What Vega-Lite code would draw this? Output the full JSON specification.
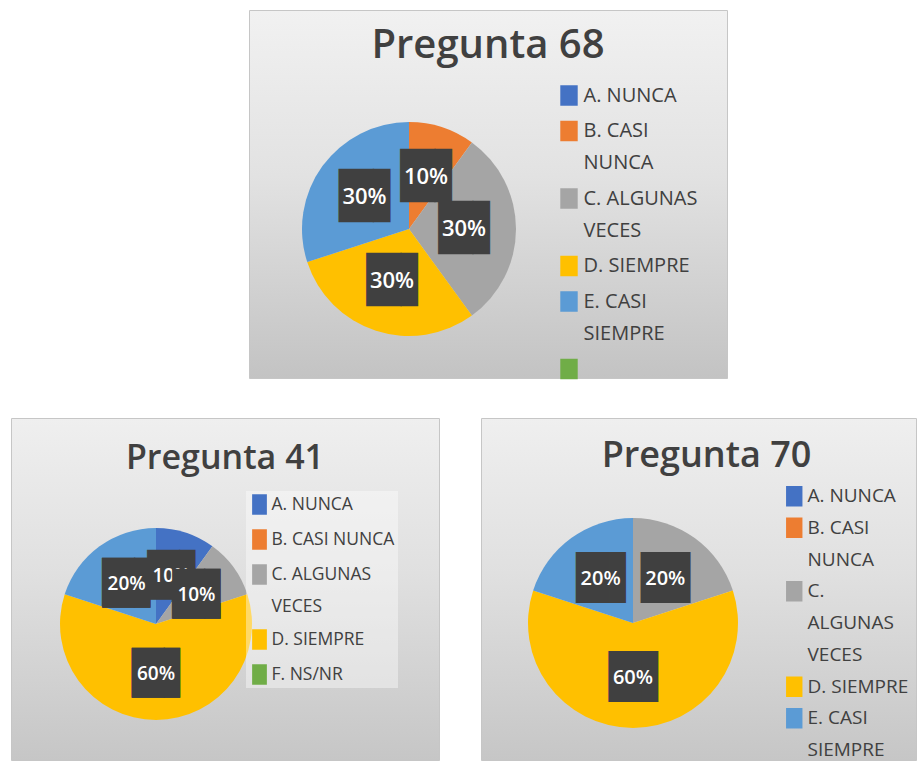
{
  "$schema": "https://vega.github.io/schema/vega-lite/v6.json",
  "padding": {"left": 10, "top": 9, "right": 0, "bottom": 0},
  "background": "white",
  "config": {
    "view": {"stroke": null},
    "font": "Open Sans",
    "style": {"guide-label": {"lineHeight": 32}}
  },
  "data": {
    "values": [
      {"pregunta": "Pregunta 68", "respuesta": "B. CASI NUNCA", "pct": 0.1},
      {"pregunta": "Pregunta 68", "respuesta": "C. ALGUNAS VECES", "pct": 0.3},
      {"pregunta": "Pregunta 68", "respuesta": "D. SIEMPRE", "pct": 0.3},
      {"pregunta": "Pregunta 68", "respuesta": "E. CASI SIEMPRE", "pct": 0.3},
      {"pregunta": "Pregunta 41", "respuesta": "A. NUNCA", "pct": 0.1},
      {"pregunta": "Pregunta 41", "respuesta": "C. ALGUNAS VECES", "pct": 0.1},
      {"pregunta": "Pregunta 41", "respuesta": "D. SIEMPRE", "pct": 0.6},
      {"pregunta": "Pregunta 41", "respuesta": "E. CASI SIEMPRE", "pct": 0.2},
      {"pregunta": "Pregunta 70", "respuesta": "C. ALGUNAS VECES", "pct": 0.2},
      {"pregunta": "Pregunta 70", "respuesta": "D. SIEMPRE", "pct": 0.6},
      {"pregunta": "Pregunta 70", "respuesta": "E. CASI SIEMPRE", "pct": 0.2}
    ]
  },
  "spacing": 36,
  "resolve": {"scale": {"color": "independent", "theta": "independent"}, "legend": {"color": "independent"}},
  "vconcat": [
    {
      "spacing": 0,
      "bounds": "flush",
      "resolve": {"scale": {"color": "independent", "theta": "independent"}, "legend": {"color": "independent"}},
      "hconcat": [
        {
          "width": 238,
          "height": 368,
          "mark": {"type": "point", "opacity": 0},
          "encoding": {}
        },
        {
          "width": 478,
          "height": 368,
          "view": {
            "fill": {"gradient": "linear", "x1": 0, "y1": 0, "x2": 0, "y2": 1,
              "stops": [{"offset": 0, "color": "#f1f1f1"}, {"offset": 0.45, "color": "#e2e2e2"}, {"offset": 1, "color": "#c3c3c3"}]},
            "stroke": "#c6c6c6",
            "strokeWidth": 1
          },
          "title": {"text": "Pregunta 68", "offset": -88, "baseline": "alphabetic", "anchor": "middle", "frame": "group",
            "font": "Open Sans", "fontSize": 40, "fontWeight": 600, "color": "#404040"},
          "transform": [{"filter": "datum.pregunta == 'Pregunta 68'"}],
          "encoding": {
            "theta": {"field": "pct", "type": "quantitative", "stack": true},
            "order": {"field": "respuesta", "type": "ordinal", "sort": "ascending"},
            "x": {"value": 160},
            "y": {"value": 219}
          },
          "layer": [
            {
              "mark": {"type": "arc", "radius": 107},
              "encoding": {
                "color": {
                  "field": "respuesta", "type": "nominal",
                  "scale": {
                    "domain": ["A. NUNCA", "B. CASI NUNCA", "C. ALGUNAS VECES", "D. SIEMPRE", "E. CASI SIEMPRE", "F. NS/NR"],
                    "range": ["#4472C4", "#ED7D31", "#A5A5A5", "#FFC000", "#5B9BD5", "#70AD47"]
                  },
                  "legend": {
                    "orient": "none", "legendX": 309.5, "legendY": 75, "title": null,
                    "values": ["A. NUNCA", "B. CASI NUNCA", "C. ALGUNAS VECES", "D. SIEMPRE", "E. CASI SIEMPRE", "F. NS/NR"],
                    "labelExpr": "datum.label == 'B. CASI NUNCA' ? ['B. CASI', 'NUNCA'] : datum.label == 'C. ALGUNAS VECES' ? ['C. ALGUNAS', 'VECES'] : datum.label == 'E. CASI SIEMPRE' ? ['E. CASI', 'SIEMPRE'] : datum.label == 'F. NS/NR' ? '' : datum.label",
                    "symbolType": "M-0.85,-1H0.85V1H-0.85Z", "symbolSize": 420, "symbolStrokeWidth": 0, "symbolOpacity": 1,
                    "labelFont": "Open Sans", "labelFontSize": 20, "labelColor": "#404040", "labelOffset": 4,
                    "rowPadding": 14.5, "labelLimit": 300
                  }
                }
              }
            },
            {
              "mark": {"type": "text", "radius": 55, "text": "█▌", "font": "DejaVu Sans", "fontSize": 45, "dx": 9, "color": "#404040"},
              "encoding": {"detail": {"field": "respuesta", "type": "nominal"}}
            },
            {
              "mark": {"type": "text", "radius": 55, "font": "Open Sans", "fontSize": 22, "fontWeight": 600, "color": "white"},
              "encoding": {
                "detail": {"field": "respuesta", "type": "nominal"},
                "text": {"field": "pct", "type": "quantitative", "format": ".0%"}
              }
            }
          ]
        }
      ]
    },
    {
      "spacing": 42,
      "bounds": "flush",
      "resolve": {"scale": {"color": "independent", "theta": "independent"}, "legend": {"color": "independent"}},
      "hconcat": [
        {
          "width": 428,
          "height": 342,
          "view": {
            "fill": {"gradient": "linear", "x1": 0, "y1": 0, "x2": 0, "y2": 1,
              "stops": [{"offset": 0, "color": "#efefef"}, {"offset": 0.45, "color": "#e0e0e0"}, {"offset": 1, "color": "#c6c6c6"}]},
            "stroke": "#c6c6c6",
            "strokeWidth": 1
          },
          "title": {"text": "Pregunta 41", "offset": -85, "baseline": "alphabetic", "anchor": "middle", "frame": "group",
            "font": "Open Sans", "fontSize": 34, "fontWeight": 600, "color": "#404040"},
          "transform": [{"filter": "datum.pregunta == 'Pregunta 41'"}],
          "encoding": {
            "theta": {"field": "pct", "type": "quantitative", "stack": true},
            "order": {"field": "respuesta", "type": "ordinal", "sort": "ascending"},
            "x": {"value": 145},
            "y": {"value": 206}
          },
          "layer": [
            {
              "mark": {"type": "arc", "radius": 96},
              "encoding": {
                "color": {
                  "field": "respuesta", "type": "nominal",
                  "scale": {
                    "domain": ["A. NUNCA", "B. CASI NUNCA", "C. ALGUNAS VECES", "D. SIEMPRE", "E. CASI SIEMPRE", "F. NS/NR"],
                    "range": ["#4472C4", "#ED7D31", "#A5A5A5", "#FFC000", "#5B9BD5", "#70AD47"]
                  },
                  "legend": {
                    "orient": "none", "legendX": 235, "legendY": 73, "title": null, "padding": 3,
                    "fillColor": "rgba(255,255,255,0.4)",
                    "values": ["A. NUNCA", "B. CASI NUNCA", "C. ALGUNAS VECES", "D. SIEMPRE", "F. NS/NR"],
                    "labelExpr": "datum.label == 'C. ALGUNAS VECES' ? ['C. ALGUNAS', 'VECES'] : datum.label",
                    "symbolType": "M-0.72,-1H0.72V1H-0.72Z", "symbolSize": 420, "symbolStrokeWidth": 0, "symbolOpacity": 1,
                    "labelFont": "Open Sans", "labelFontSize": 17.5, "labelColor": "#404040", "labelOffset": 1.5,
                    "rowPadding": 14, "labelLimit": 300
                  }
                }
              }
            },
            {
              "mark": {"type": "text", "radius": 50, "text": "█▌", "font": "DejaVu Sans", "fontSize": 42, "dx": 8, "color": "#404040"},
              "encoding": {"detail": {"field": "respuesta", "type": "nominal"}}
            },
            {
              "mark": {"type": "text", "radius": 50, "font": "Open Sans", "fontSize": 19, "fontWeight": 600, "color": "white"},
              "encoding": {
                "detail": {"field": "respuesta", "type": "nominal"},
                "text": {"field": "pct", "type": "quantitative", "format": ".0%"},
                "opacity": {"condition": {"test": "datum.respuesta == 'A. NUNCA'", "value": 1}, "value": 0}
              }
            },
            {
              "mark": {"type": "text", "radius": 50, "text": "█▌", "font": "DejaVu Sans", "fontSize": 42, "dx": 8, "color": "#404040"},
              "encoding": {
                "detail": {"field": "respuesta", "type": "nominal"},
                "opacity": {"condition": {"test": "datum.respuesta == 'A. NUNCA'", "value": 0}, "value": 1}
              }
            },
            {
              "mark": {"type": "text", "radius": 50, "font": "Open Sans", "fontSize": 19, "fontWeight": 600, "color": "white"},
              "encoding": {
                "detail": {"field": "respuesta", "type": "nominal"},
                "text": {"field": "pct", "type": "quantitative", "format": ".0%"},
                "opacity": {"condition": {"test": "datum.respuesta == 'A. NUNCA'", "value": 0}, "value": 1}
              }
            }
          ]
        },
        {
          "width": 435,
          "height": 342,
          "view": {
            "fill": {"gradient": "linear", "x1": 0, "y1": 0, "x2": 0, "y2": 1,
              "stops": [{"offset": 0, "color": "#efefef"}, {"offset": 0.45, "color": "#e0e0e0"}, {"offset": 1, "color": "#c6c6c6"}]},
            "stroke": "#c6c6c6",
            "strokeWidth": 1
          },
          "title": {"text": "Pregunta 70", "offset": -85, "baseline": "alphabetic", "anchor": "middle", "frame": "group", "dx": 8,
            "font": "Open Sans", "fontSize": 36, "fontWeight": 600, "color": "#404040"},
          "transform": [{"filter": "datum.pregunta == 'Pregunta 70'"}],
          "encoding": {
            "theta": {"field": "pct", "type": "quantitative", "stack": true},
            "order": {"field": "respuesta", "type": "ordinal", "sort": "ascending"},
            "x": {"value": 152},
            "y": {"value": 205}
          },
          "layer": [
            {
              "mark": {"type": "arc", "radius": 105},
              "encoding": {
                "color": {
                  "field": "respuesta", "type": "nominal",
                  "scale": {
                    "domain": ["A. NUNCA", "B. CASI NUNCA", "C. ALGUNAS VECES", "D. SIEMPRE", "E. CASI SIEMPRE", "F. NS/NR"],
                    "range": ["#4472C4", "#ED7D31", "#A5A5A5", "#FFC000", "#5B9BD5", "#70AD47"]
                  },
                  "legend": {
                    "orient": "none", "legendX": 302.75, "legendY": 67.75, "title": null,
                    "values": ["A. NUNCA", "B. CASI NUNCA", "C. ALGUNAS VECES", "D. SIEMPRE", "E. CASI SIEMPRE"],
                    "labelExpr": "datum.label == 'B. CASI NUNCA' ? ['B. CASI', 'NUNCA'] : datum.label == 'C. ALGUNAS VECES' ? ['C.', 'ALGUNAS', 'VECES'] : datum.label == 'E. CASI SIEMPRE' ? ['E. CASI', 'SIEMPRE'] : datum.label",
                    "symbolType": "M-0.8,-1H0.8V1H-0.8Z", "symbolSize": 420, "symbolStrokeWidth": 0, "symbolOpacity": 1,
                    "labelFont": "Open Sans", "labelFontSize": 19, "labelColor": "#404040", "labelOffset": 2.75,
                    "rowPadding": 10.5, "labelLimit": 300
                  }
                }
              }
            },
            {
              "mark": {"type": "text", "radius": 55, "text": "█▌", "font": "DejaVu Sans", "fontSize": 43, "dx": 8.5, "color": "#404040"},
              "encoding": {"detail": {"field": "respuesta", "type": "nominal"}}
            },
            {
              "mark": {"type": "text", "radius": 55, "font": "Open Sans", "fontSize": 20, "fontWeight": 600, "color": "white"},
              "encoding": {
                "detail": {"field": "respuesta", "type": "nominal"},
                "text": {"field": "pct", "type": "quantitative", "format": ".0%"}
              }
            }
          ]
        }
      ]
    }
  ]
}
